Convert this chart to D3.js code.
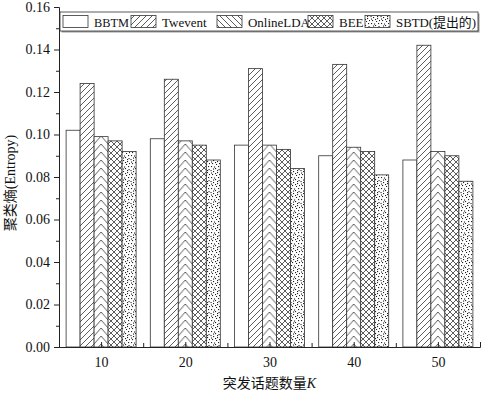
<!DOCTYPE html>
<html><head><meta charset="utf-8">
<script src="https://cdn.jsdelivr.net/npm/d3@7"></script>
<style>body{margin:0;background:#fff}svg{display:block}
text{font-family:"Liberation Serif","DejaVu Serif","Noto Sans CJK SC",serif;fill:#111}</style>
</head><body>
<script>
const categories = [10, 20, 30, 40, 50];
const seriesNames = ["BBTM", "Twevent", "OnlineLDA", "BEE", "SBTD(提出的)"];
const BBTM = [0.102, 0.098, 0.095, 0.090, 0.088];
const Twevent = [0.124, 0.126, 0.131, 0.133, 0.142];
const OnlineLDA = [0.099, 0.097, 0.095, 0.094, 0.092];
const BEE = [0.097, 0.095, 0.093, 0.092, 0.090];
const SBTD = [0.092, 0.088, 0.084, 0.081, 0.078];
const yTicks = [0.00, 0.02, 0.04, 0.06, 0.08, 0.10, 0.12, 0.14, 0.16];
const yLabel = "聚类熵(Entropy)";
const xLabel = "突发话题数量";

const values = [BBTM, Twevent, OnlineLDA, BEE, SBTD];
const W = 484, H = 393;
const svg = d3.select("body").append("svg").attr("width", W).attr("height", H);
const defs = svg.append("defs");

const x = d3.scaleLinear().domain([5, 55]).range([59, 480]);
const y = d3.scaleLinear().domain([0, 0.16]).range([347, 7]);
const barW = 14;
const sub = d3.scaleBand().domain(d3.range(5)).range([-35, 35]);

const stroke = "#333";
function hatch(id, dir) {
  const p = defs.append("pattern").attr("id", id).attr("patternUnits", "userSpaceOnUse")
    .attr("width", 6).attr("height", 6);
  p.append("rect").attr("width", 6).attr("height", 6).attr("fill", "#fff");
  const segs = [];
  if (dir === "/" || dir === "x") segs.push([0, 6, 6, 0], [-1, 1, 1, -1], [5, 7, 7, 5]);
  if (dir === "\\" || dir === "x") segs.push([0, 0, 6, 6], [-1, 5, 1, 7], [5, -1, 7, 1]);
  segs.forEach(s => p.append("line").attr("x1", s[0]).attr("y1", s[1]).attr("x2", s[2]).attr("y2", s[3])
    .attr("stroke", stroke).attr("stroke-width", 0.8));
}
hatch("pTw", "/");
hatch("pOl", "\\");
hatch("pBe", "x");
const dots = [[1,1],[5,3],[3,6],[7,7],[2,9],[6,10],[0.5,5],[4,1.5],[8.5,4],[9,9],[3,3.5],[8,1],[5,8],[1,7.5],[7,5]];
const pd = defs.append("pattern").attr("id", "pSb").attr("patternUnits", "userSpaceOnUse")
  .attr("width", 10).attr("height", 11);
pd.append("rect").attr("width", 10).attr("height", 11).attr("fill", "#fff");
dots.forEach(d => pd.append("rect").attr("x", d[0]).attr("y", d[1]).attr("width", 1.1).attr("height", 1.1).attr("fill", "#222"));
categories.forEach((c, gi) => {
  const x0 = x(c) + sub(2);
  const p = defs.append("pattern").attr("id", "pCh" + gi).attr("patternUnits", "userSpaceOnUse")
    .attr("x", x0).attr("y", 0).attr("width", barW).attr("height", 8);
  p.append("rect").attr("width", barW).attr("height", 8).attr("fill", "#fff");
  const m = barW * 0.5;
  [-8, 0, 8].forEach(o => {
    p.append("path").attr("d", `M0,${o + 8} L${m},${o} L${barW},${o + 8}`)
      .attr("fill", "none").attr("stroke", stroke).attr("stroke-width", 0.8);
  });
});

const fills = [i => "#fff", i => "url(#pTw)", i => "url(#pCh" + i + ")", i => "url(#pBe)", i => "url(#pSb)"];

values.forEach((arr, si) => {
  svg.append("g").selectAll("rect").data(arr).join("rect")
    .attr("x", (d, i) => x(categories[i]) + sub(si))
    .attr("y", d => y(d))
    .attr("width", sub.bandwidth())
    .attr("height", d => y(0) - y(d))
    .attr("fill", (d, i) => fills[si](i))
    .attr("stroke", stroke).attr("stroke-width", 0.8);
});

svg.append("g").attr("transform", `translate(${x(5)},0)`)
  .call(d3.axisLeft(y).tickValues(yTicks).tickFormat(d3.format(".2f")).tickSize(5).tickPadding(4));
const yMinor = d3.range(0.01, 0.16, 0.02);
svg.append("g").attr("transform", `translate(${x(5)},0)`)
  .call(d3.axisLeft(y).tickValues(yMinor).tickFormat("").tickSize(3))
  .select(".domain").remove();
svg.append("g").attr("transform", `translate(0,${y(0)})`)
  .call(d3.axisBottom(x).tickValues(categories).tickFormat(d3.format("d")).tickSize(-5).tickPadding(10));
svg.append("g").attr("transform", `translate(0,${y(0)})`)
  .call(d3.axisBottom(x).tickValues([15, 25, 35, 45, 55]).tickFormat("").tickSize(-4))
  .select(".domain").remove();
svg.selectAll(".tick text").attr("font-size", 14).attr("font-family", null);
svg.selectAll(".domain, .tick line").attr("stroke", "#222");

svg.append("text").attr("transform", `translate(15,${(y(0) + y(0.16)) / 2 + 6}) rotate(-90)`)
  .attr("text-anchor", "middle").attr("font-size", 14).text(yLabel);
const xt = svg.append("text").attr("x", (x(5) + x(55)) / 2).attr("y", 388).attr("text-anchor", "middle")
  .attr("font-size", 14);
xt.append("tspan").text(xLabel);
xt.append("tspan").attr("font-style", "italic").text("K");

// legend
const lg = svg.append("g");
const lx0 = 60, lx1 = 478, ly0 = 12, ly1 = 31;
lg.append("rect").attr("x", lx0 + 1.5).attr("y", ly0 + 1.5).attr("width", lx1 - lx0).attr("height", ly1 - ly0)
  .attr("fill", "#999");
lg.append("rect").attr("x", lx0).attr("y", ly0).attr("width", lx1 - lx0).attr("height", ly1 - ly0)
  .attr("fill", "#fff").attr("stroke", "#333").attr("stroke-width", 0.8);
const legFills = ["#fff", "url(#pTw)", "url(#pOl)", "url(#pBe)", "url(#pSb)"];
const swX = [63, 131, 217, 308, 365];
const txW = [35, 56, 62, 25, 80];
seriesNames.forEach((n, i) => {
  lg.append("rect").attr("x", swX[i]).attr("y", ly0 + 3.5).attr("width", 25).attr("height", 12)
    .attr("fill", legFills[i]).attr("stroke", "#333").attr("stroke-width", 0.8);
  const t = lg.append("text").attr("x", swX[i] + 31).attr("y", ly0 + 14.5)
    .attr("font-size", 13).text(n);
  if (t.node().getComputedTextLength() > txW[i]) t.attr("textLength", txW[i]).attr("lengthAdjust", "spacingAndGlyphs");
});
</script>
</body></html>
